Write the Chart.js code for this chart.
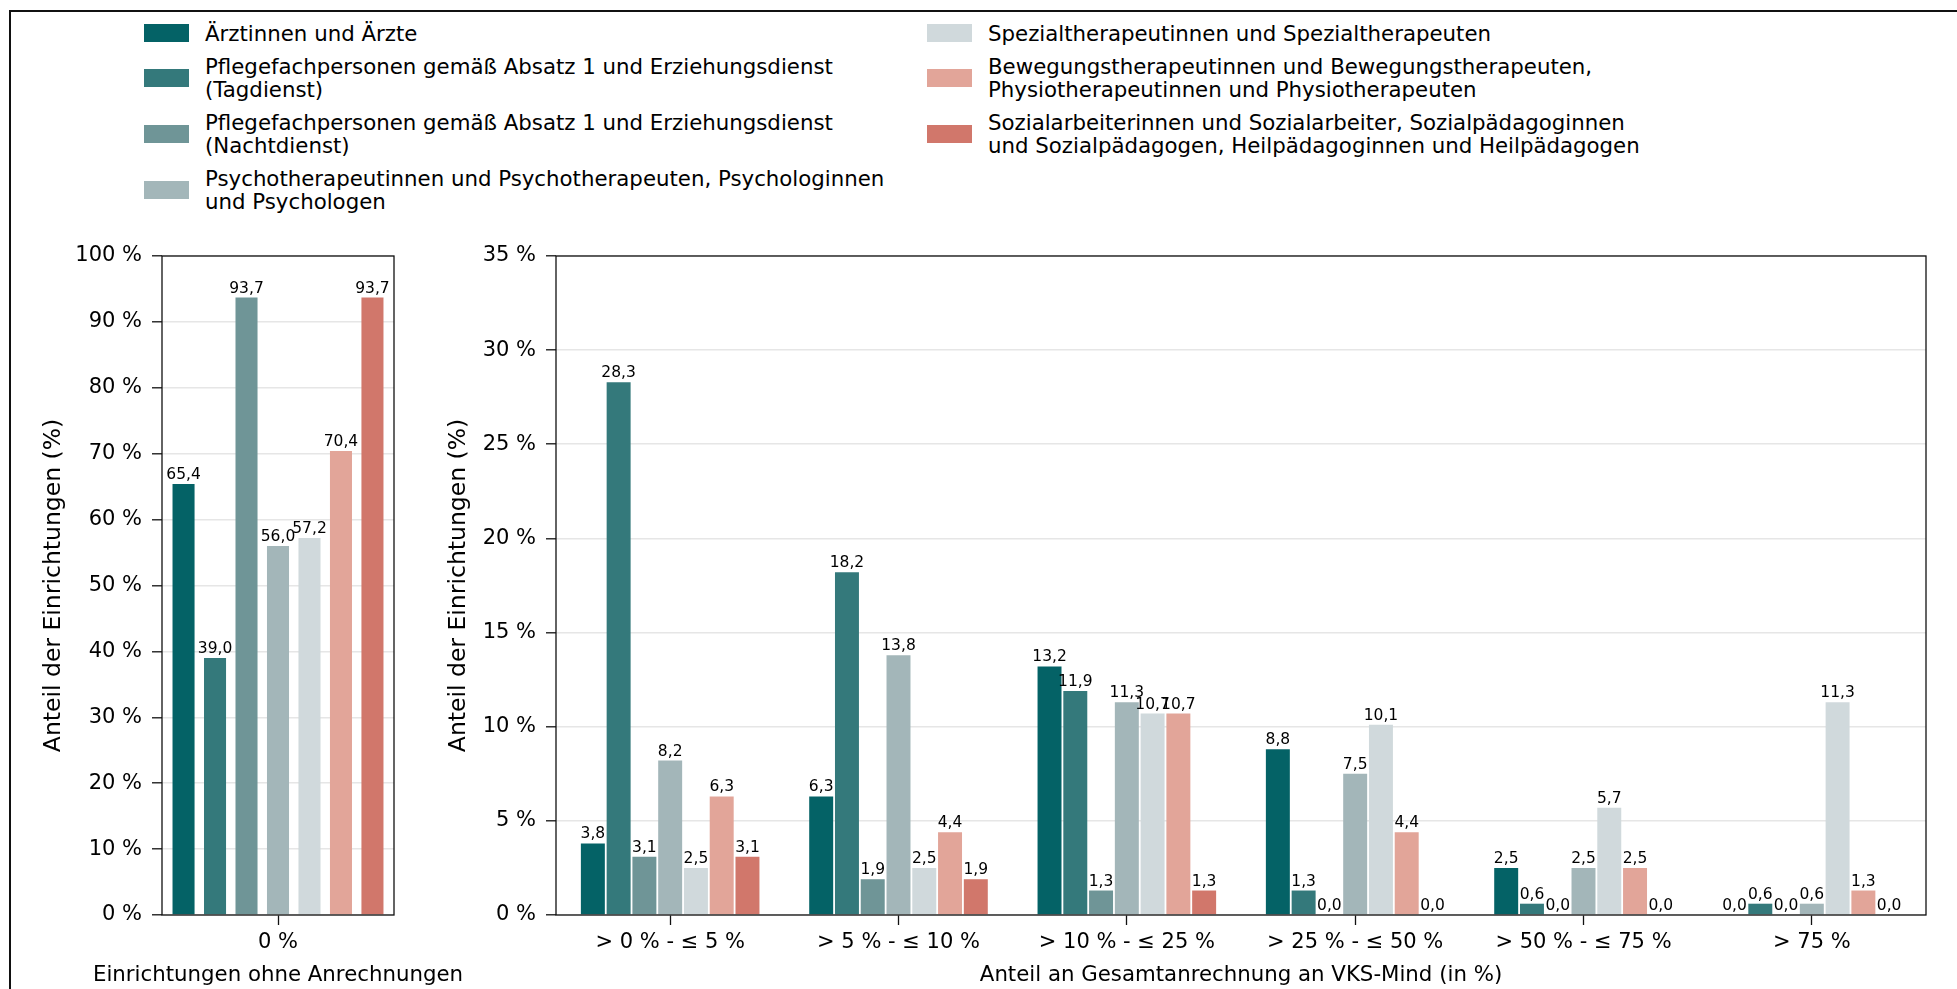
<!DOCTYPE html>
<html>
<head>
<meta charset="utf-8">
<script src="https://cdn.jsdelivr.net/npm/chart.js@4.4.1/dist/chart.umd.min.js"></script>
<style>
html,body{margin:0;padding:0;background:#fff;}
body{width:1957px;height:989px;position:relative;overflow:hidden;font-family:'DejaVu Sans',sans-serif;}
#frame{position:absolute;left:9px;top:10px;width:2100px;height:1100px;border-left:2px solid #111;border-top:2px solid #111;}
.col{position:absolute;top:21.5px;display:flex;flex-direction:column;gap:10px;}
.item{display:flex;align-items:center;}
.sw{width:45px;height:18px;flex:none;}
.tx{margin-left:16px;font-size:21.3px;line-height:23px;white-space:pre-line;color:#000;}
.wrap{position:absolute;}
canvas{display:block;}
</style>
</head>
<body>
<div id="frame"></div>
<div class="col" id="leg1" style="left:144px"></div>
<div class="col" id="leg2" style="left:927px"></div>
<div class="wrap" style="left:0;top:200px;width:480px;height:789px"><canvas id="c1" width="480" height="789"></canvas></div>
<div class="wrap" style="left:420px;top:200px;width:1537px;height:789px"><canvas id="c2" width="1537" height="789"></canvas></div>
<script>
// ---- data ----
const leftCategories = ['0 %'];
const rightCategories = ['> 0 % - ≤ 5 %', '> 5 % - ≤ 10 %', '> 10 % - ≤ 25 %', '> 25 % - ≤ 50 %', '> 50 % - ≤ 75 %', '> 75 %'];
const seriesLabels = [
  'Ärztinnen und Ärzte',
  'Pflegefachpersonen gemäß Absatz 1 und Erziehungsdienst\n(Tagdienst)',
  'Pflegefachpersonen gemäß Absatz 1 und Erziehungsdienst\n(Nachtdienst)',
  'Psychotherapeutinnen und Psychotherapeuten, Psychologinnen\nund Psychologen',
  'Spezialtherapeutinnen und Spezialtherapeuten',
  'Bewegungstherapeutinnen und Bewegungstherapeuten,\nPhysiotherapeutinnen und Physiotherapeuten',
  'Sozialarbeiterinnen und Sozialarbeiter, Sozialpädagoginnen\nund Sozialpädagogen, Heilpädagoginnen und Heilpädagogen'
];
const seriesColors = ['#046266', '#34797b', '#6f9597', '#a3b6b9', '#d0d9dc', '#e2a599', '#d1776b'];
const leftValues = [65.4, 39.0, 93.7, 56.0, 57.2, 70.4, 93.7];
const aerzte      = [3.8, 6.3, 13.2, 8.8, 2.5, 0.0];
const pflegeTag   = [28.3, 18.2, 11.9, 1.3, 0.6, 0.6];
const pflegeNacht = [3.1, 1.9, 1.3, 0.0, 0.0, 0.0];
const psycho      = [8.2, 13.8, 11.3, 7.5, 2.5, 0.6];
const spezial     = [2.5, 2.5, 10.7, 10.1, 5.7, 11.3];
const bewegung    = [6.3, 4.4, 10.7, 4.4, 2.5, 1.3];
const sozial      = [3.1, 1.9, 1.3, 0.0, 0.0, 0.0];
const rightSeries = [aerzte, pflegeTag, pflegeNacht, psycho, spezial, bewegung, sozial];
const leftTicks = {min: 0, max: 100, step: 10};
const rightTicks = {min: 0, max: 35, step: 5};
const leftXTitle = 'Einrichtungen ohne Anrechnungen';
const rightXTitle = 'Anteil an Gesamtanrechnung an VKS-Mind (in %)';
const yTitle = 'Anteil der Einrichtungen (%)';

// ---- legend (HTML) ----
seriesLabels.forEach((lab, i) => {
  const item = document.createElement('div');
  item.className = 'item';
  const sw = document.createElement('div');
  sw.className = 'sw';
  sw.style.background = seriesColors[i];
  const tx = document.createElement('div');
  tx.className = 'tx';
  tx.textContent = lab;
  item.appendChild(sw); item.appendChild(tx);
  document.getElementById(i < 4 ? 'leg1' : 'leg2').appendChild(item);
});

// ---- chart setup ----
Chart.defaults.font.family = "'DejaVu Sans', sans-serif";
Chart.defaults.color = '#000';
const TICK_FONT = {size: 21};
const TITLE_FONT = {size: 23.5};
const fmt = v => v.toFixed(1).replace('.', ',');

const valueLabels = {
  id: 'valueLabels',
  afterDatasetsDraw(chart) {
    const ctx = chart.ctx;
    ctx.save();
    ctx.font = "15.5px 'DejaVu Sans', sans-serif";
    ctx.fillStyle = '#000';
    ctx.textAlign = 'center';
    ctx.textBaseline = 'alphabetic';
    chart.data.datasets.forEach((ds, di) => {
      chart.getDatasetMeta(di).data.forEach((el, i) => {
        ctx.fillText(fmt(ds.data[i]), el.x, el.y - 5);
      });
    });
    ctx.restore();
  }
};
const frameBox = {
  id: 'frameBox',
  afterDraw(chart, args, opts) {
    const a = chart.chartArea, ctx = chart.ctx;
    ctx.save();
    ctx.strokeStyle = '#111';
    ctx.lineWidth = 1.3;
    ctx.strokeRect(a.left, a.top, a.right - a.left, a.bottom - a.top);
    // x-axis title (drawn without width compression)
    ctx.font = "21.3px 'DejaVu Sans', sans-serif";
    ctx.fillStyle = '#000';
    ctx.textAlign = 'center';
    ctx.textBaseline = 'middle';
    ctx.fillText(opts.xTitle, (a.left + a.right) / 2, 775);
    ctx.restore();
  }
};

function makeChart(id, labels, datasets, yr, yAxisWidth, padRight, yTitlePad, xTitle, catPct, barPct) {
  return new Chart(document.getElementById(id), {
    type: 'bar',
    data: {labels, datasets: datasets.map((d, i) => ({
      label: seriesLabels[i], data: d, backgroundColor: seriesColors[i], borderWidth: 0,
      categoryPercentage: catPct, barPercentage: barPct
    }))},
    options: {
      responsive: false, animation: false, devicePixelRatio: 1,
      layout: {padding: {top: 56, left: 0, right: padRight, bottom: 0}},
      plugins: {legend: {display: false}, tooltip: {enabled: false}, frameBox: {xTitle}},
      scales: {
        x: {
          grid: {drawOnChartArea: false, offset: false, tickColor: '#111', tickLength: 10, tickWidth: 1.3},
          border: {display: false},
          ticks: {font: TICK_FONT, padding: 5, color: '#000', maxRotation: 0, autoSkip: false},
          title: {display: false},
          afterFit(s) { s.height = 74; }
        },
        y: {
          min: yr.min, max: yr.max,
          grid: {color: '#e6e6e6', lineWidth: 1.6, tickColor: '#111', tickLength: 10, tickWidth: 1.3},
          border: {display: false},
          ticks: {stepSize: yr.step, font: TICK_FONT, padding: 10, color: '#000', callback: v => v + ' %'},
          title: {display: true, text: yTitle, font: TITLE_FONT, color: '#000', padding: {top: yTitlePad, bottom: 0}},
          afterFit(s) { s.width = yAxisWidth; }
        }
      }
    },
    plugins: [valueLabels, frameBox]
  });
}

makeChart('c1', leftCategories, leftValues.map(v => [v]), leftTicks, 162, 86, 40, leftXTitle, 0.95, 0.70);
makeChart('c2', rightCategories, rightSeries, rightTicks, 136, 31, 25, rightXTitle, 0.79, 0.93);
</script>
</body>
</html>
